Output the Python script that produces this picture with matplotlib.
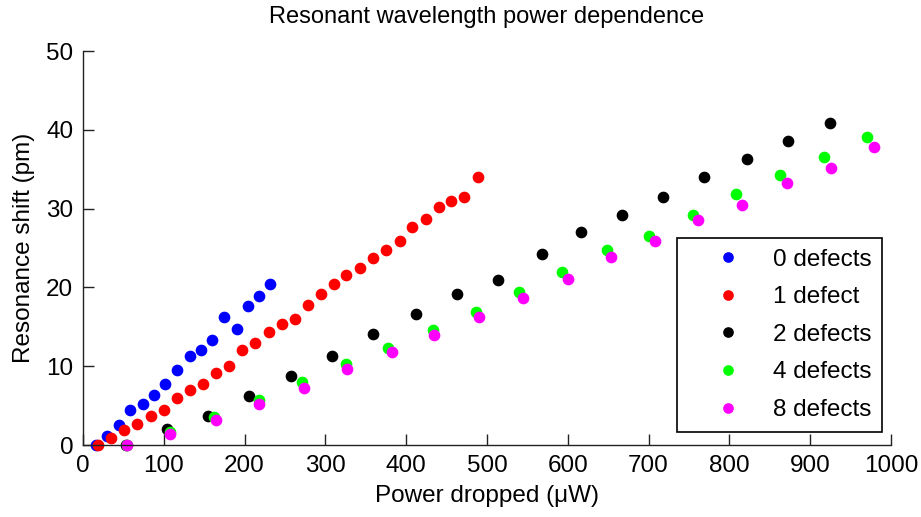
import matplotlib
matplotlib.use("Agg")
import matplotlib.pyplot as plt

plt.rcParams['font.family'] = ['Liberation Sans', 'DejaVu Sans']

# ---- data ----
x0 = [16, 30, 44, 58, 74, 88, 102, 116, 132, 146, 160, 174, 190, 204, 218, 232]
y0 = [0.0, 1.2, 2.5, 4.4, 5.2, 6.3, 7.7, 9.5, 11.3, 12.0, 13.3, 16.3, 14.7, 17.6, 18.9, 20.4]

x1 = [18, 35, 51, 67, 84, 100, 116, 132, 149, 164, 181, 197, 213, 230, 246,
      262, 278, 294, 311, 326, 343, 359, 375, 392, 407, 424, 440, 456, 472, 489]
y1 = [0.0, 0.85, 1.9, 2.65, 3.7, 4.4, 5.95, 7.0, 7.7, 9.2, 10.0, 12.0, 13.0, 14.3, 15.3,
      16.0, 17.8, 19.1, 20.4, 21.6, 22.4, 23.7, 24.7, 25.9, 27.7, 28.7, 30.2, 31.0, 31.5, 34.0]

x2 = [53, 104, 155, 206, 257, 308, 359, 412, 463, 514, 568, 616, 667, 718, 769, 822, 873, 924]
y2 = [0.0, 2.0, 3.7, 6.2, 8.7, 11.3, 14.1, 16.6, 19.1, 21.0, 24.2, 27.0, 29.2, 31.5, 34.0, 36.3, 38.6, 40.8]

x4 = [54, 108, 162, 218, 271, 325, 377, 433, 486, 539, 593, 649, 701, 755, 808, 863, 917, 970]
y4 = [0.0, 1.7, 3.5, 5.7, 8.0, 10.3, 12.3, 14.6, 16.9, 19.4, 21.9, 24.7, 26.5, 29.2, 31.8, 34.3, 36.6, 39.1]

x8 = [55, 108, 164, 218, 273, 327, 382, 435, 490, 544, 600, 653, 708, 761, 816, 871, 926, 979]
y8 = [0.0, 1.4, 3.2, 5.2, 7.2, 9.7, 11.8, 14.0, 16.3, 18.6, 21.1, 23.9, 25.9, 28.5, 30.5, 33.3, 35.1, 37.8]

labels = ['0 defects', '1 defect', '2 defects', '4 defects', '8 defects']
colors = ['#0000ff', '#ff0000', '#000000', '#00ff00', '#ff00ff']

xticks = [0, 100, 200, 300, 400, 500, 600, 700, 800, 900, 1000]
yticks = [0, 10, 20, 30, 40, 50]

FS = 17.5

fig = plt.figure(figsize=(9.21, 5.17), dpi=100)
ax = fig.add_axes([83/921, 1-445/517, (891-83)/921, (445-51)/517])

series = [(x0, y0), (x1, y1), (x2, y2), (x4, y4), (x8, y8)]
for (xs, ys), lab, c in zip(series, labels, colors):
    ax.plot(xs, ys, linestyle='none', marker='o', markersize=7.4,
            markerfacecolor=c, markeredgecolor=c, label=lab, clip_on=False)

ax.set_xlim(0, 1000)
ax.set_ylim(0, 50)
ax.set_xticks(xticks)
ax.set_yticks(yticks)
ax.tick_params(direction='in', length=8, width=1, labelsize=FS, pad=7, colors='#222222',
               labelcolor='black')
for s in ['top', 'right']:
    ax.spines[s].set_visible(False)
for s in ['left', 'bottom']:
    ax.spines[s].set_color('#222222')
    ax.spines[s].set_linewidth(1)

ax.set_xlabel('Power dropped (μW)', fontsize=FS, labelpad=6)
ax.set_ylabel('Resonance shift (pm)', fontsize=FS, labelpad=8)
fig.text(487/921, 1-17/517, 'Resonant wavelength power dependence', fontsize=17,
         ha='center', va='center')

leg = ax.legend(loc='lower right', bbox_to_anchor=(0.989, 0.033), fontsize=FS,
                fancybox=False, framealpha=1, edgecolor='black', markerscale=0.9,
                borderpad=0.45, handlelength=3.3, handletextpad=0.2, labelspacing=0.64,
                borderaxespad=0)
leg.get_frame().set_linewidth(1.2)

fig.savefig('out.png', dpi=100)
